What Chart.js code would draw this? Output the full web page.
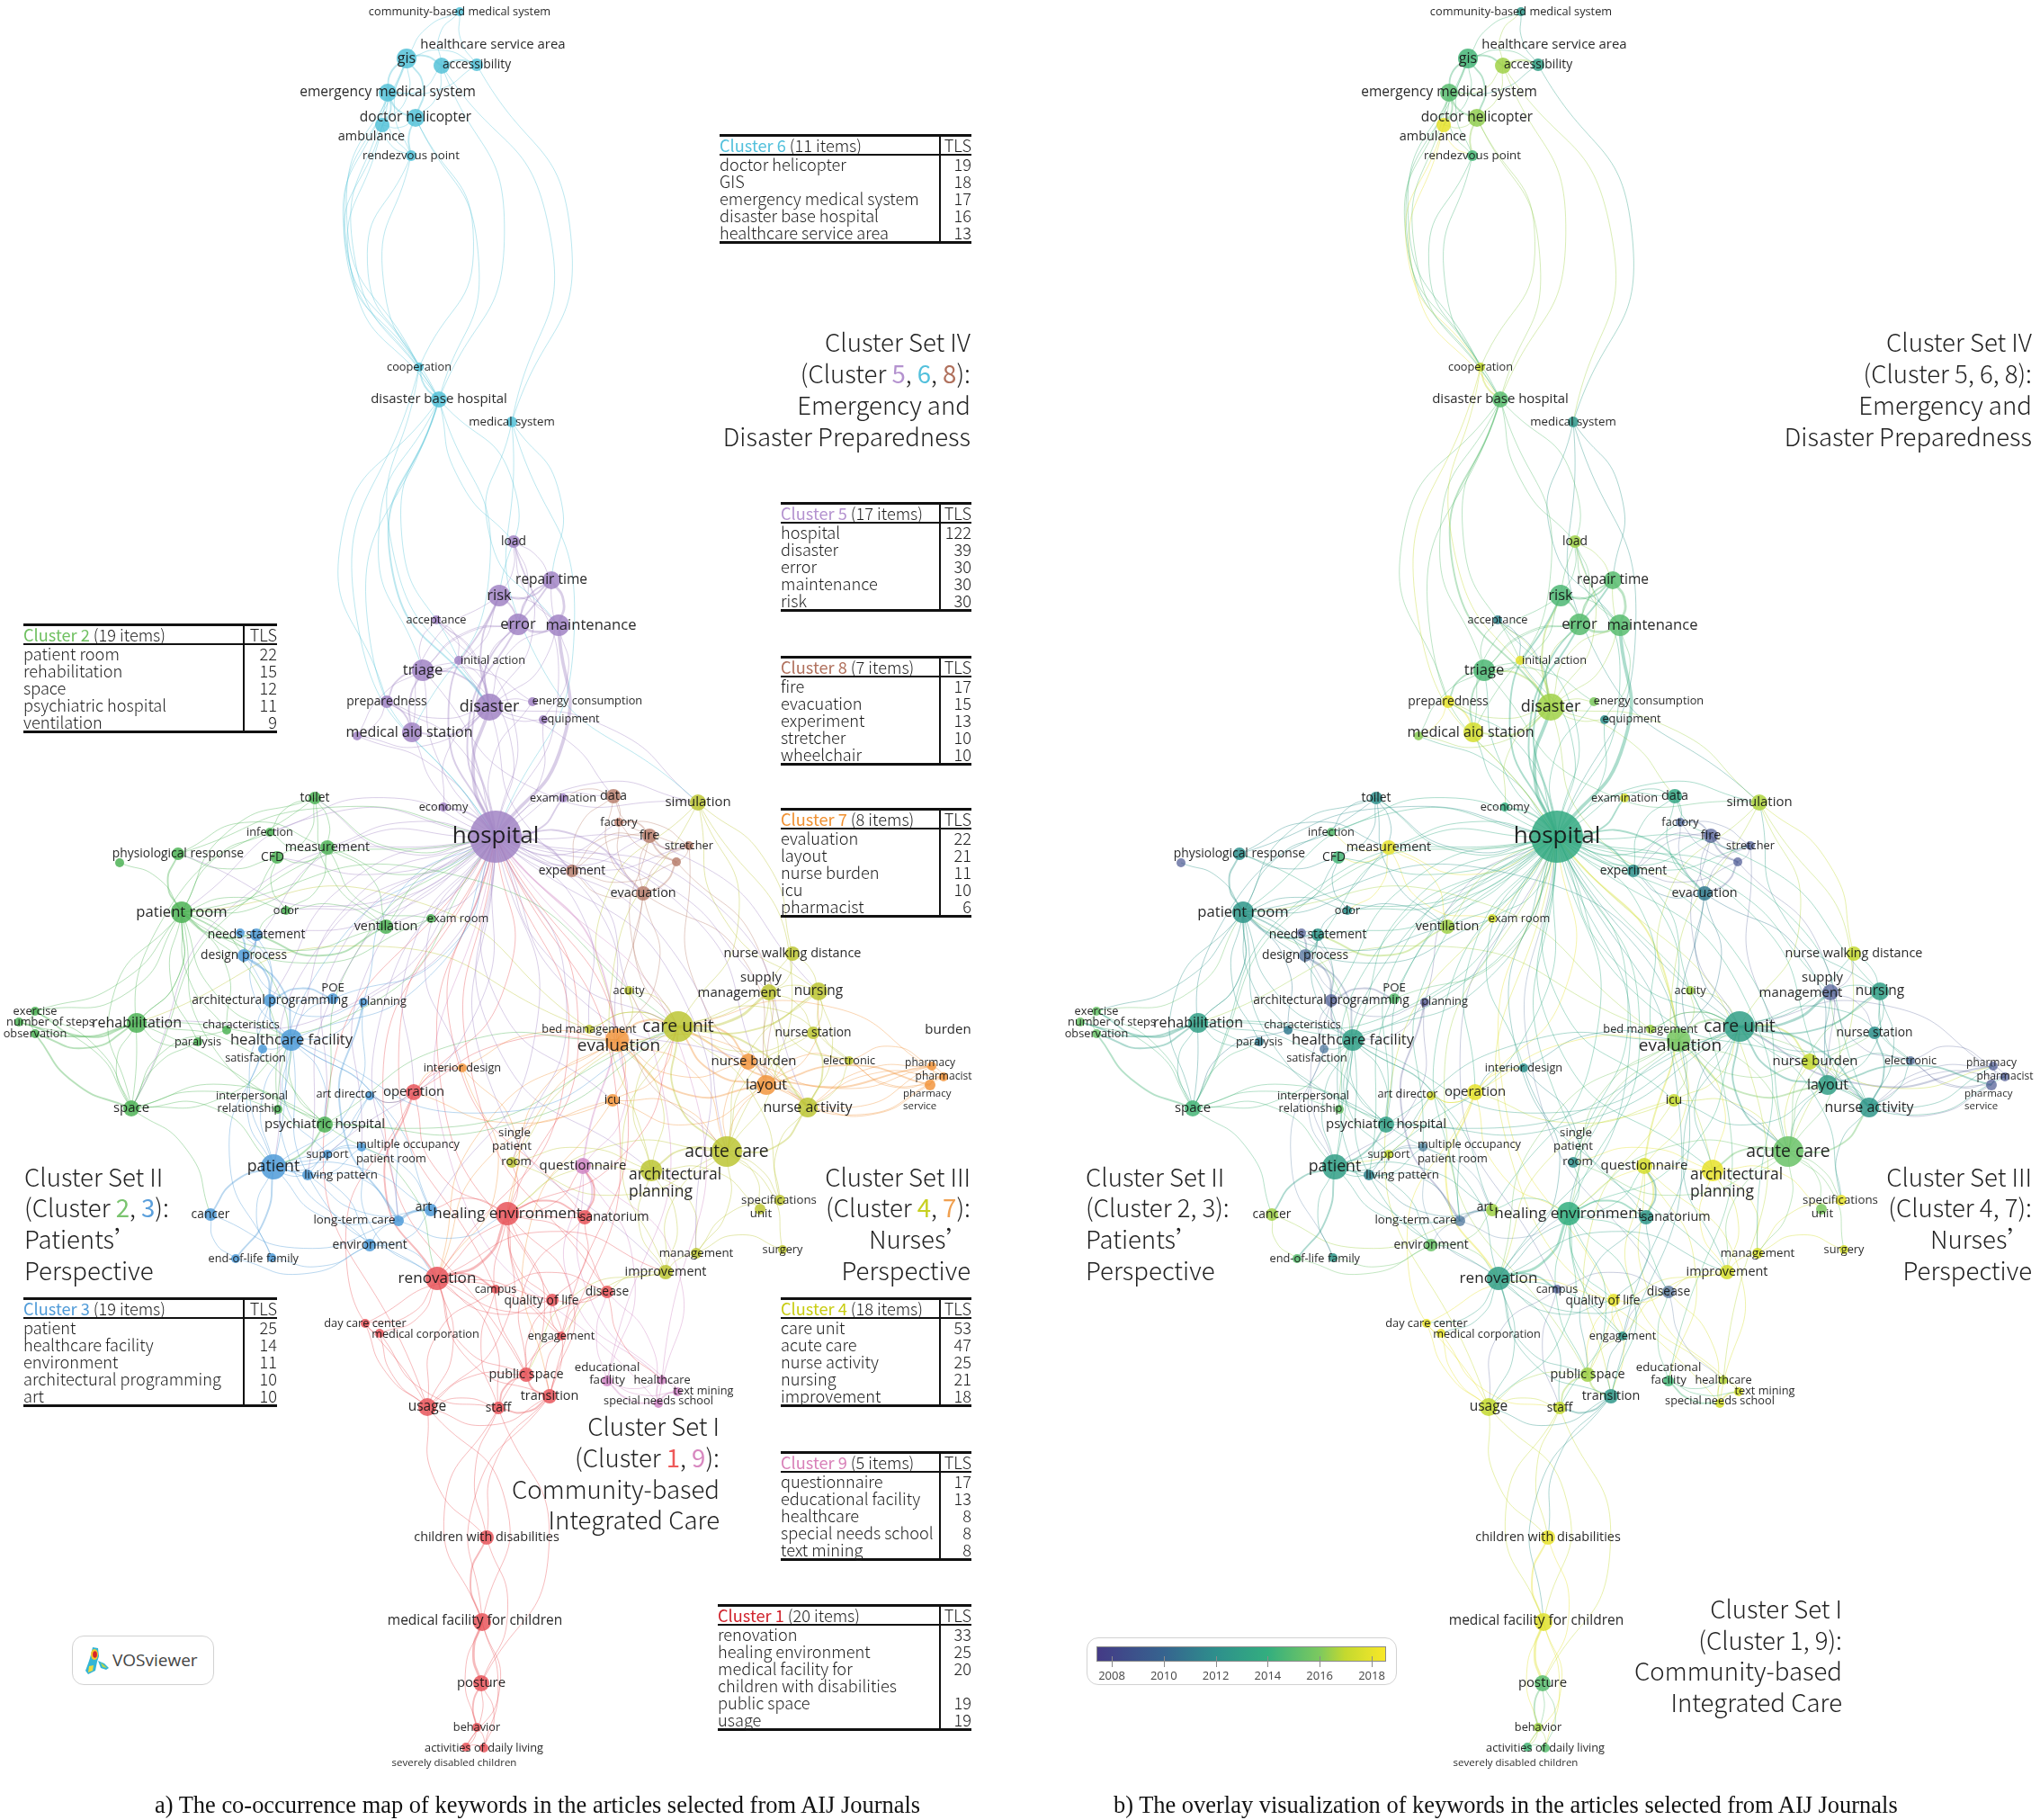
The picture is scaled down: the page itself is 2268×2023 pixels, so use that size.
<!DOCTYPE html>
<html>
<head>
<meta charset="utf-8">
<title>Keyword co-occurrence maps</title>
<script src="https://cdn.jsdelivr.net/npm/chart.js@4/dist/chart.umd.min.js"></script>
<style>
  html, body { margin: 0; padding: 0; background: #fff; }
  #page { position: relative; width: 2268px; height: 2023px; overflow: hidden; }
  canvas { position: absolute; left: 0; top: 0; }
  .abs { position: absolute; }
  .setline { position: absolute; font: 300 27.6px "Noto Sans CJK SC", "Noto Sans", sans-serif; color: #222; white-space: pre; line-height: 34px; }
  .tbl { position: absolute; border-collapse: collapse; font: 300 18.2px/19px "Noto Sans CJK SC", "Noto Sans", sans-serif; color: #1c1c1c; border-top: 3px solid #111; border-bottom: 3px solid #111; table-layout: fixed; }
  .tbl td { padding: 0; white-space: nowrap; overflow: visible; }
  .tbl tr:first-child td { border-bottom: 2.5px solid #111; height: 19px; }
  .tbl tr:first-child span { font-weight: 400; }
  .tbl td:last-child { border-left: 2.5px solid #111; text-align: right; }
  .cap { position: absolute; font: 26.45px "Liberation Serif", serif; color: #111; white-space: pre; }
  .badge { position: absolute; border: 1.5px solid #d2d2d2; border-radius: 13px; box-sizing: border-box; background: #fff; }
</style>
</head>
<body>
<div id="page"><canvas id="map" width="2268" height="2023"></canvas></div>
<script>
// rows: keyword, map x, map y, node radius, average year
const cluster1 = [
  ['operation',460,1214,9,2018],['healing environment',564,1349,13,2014],['sanatorium',650,1353,8,2012.5],
  ['renovation',486,1421,13,2013],['campus',551,1433,5,2008.5],['quality of life',614,1445,7,2018],
  ['disease',675,1436,7,2009.5],['day care center',406,1471,5,2018],['medical corporation',422,1482,5,2018],
  ['engagement',624,1485,5,2012.5],['public space',585,1528,8,2016.5],['transition',611,1552,8,2012.5],
  ['usage',475,1564,10,2017],['staff',554,1565,7,2017],['children with disabilities',541,1709,8,2018],
  ['medical facility for children',536,1803,10,2017.8],['posture',535,1871,9,2015],['behavior',530,1920,5,2016.5],
  ['activities of daily living',538,1943,5,2015],['severely disabled children',518,1942,5,2014.5]
];
const cluster2 = [
  ['toilet',350,887,7,2012],['infection',300,925,5,2015],['measurement',364,942,8,2018],['CFD',308,953,7,2014.5],
  ['physiological response',198,949,7,2012],['c2x',133,959,5,2008.5],['patient room',202,1014,12,2012.5],
  ['odor',318,1012,5,2012],['ventilation',429,1030,8,2016.5],['exam room',479,1021,5,2017.5],
  ['exercise',39,1124,5,2015.5],['number of steps',21,1136,5,2015.5],['observation',39,1149,5,2015.5],
  ['rehabilitation',152,1137,11,2013],['characteristics',252,1145,5,2011],['paralysis',220,1158,5,2011],
  ['space',146,1232,9,2014.5],['interpersonal relationship',309,1233,5,2015.5],['psychiatric hospital',361,1250,9,2013]
];
const cluster3 = [
  ['needs statement',285,1039,7,2012.5],['c3x',267,1037,5,2008.5],['design process',271,1062,7,2009.5],
  ['architectural programming',300,1112,7,2008.5],['POE',370,1110,6,2015],['planning',404,1114,5,2008],
  ['healthcare facility',324,1156,12,2013],['satisfaction',292,1166,5,2010],['art director',411,1218,5,2017.5],
  ['patient',304,1297,14,2013],['support',364,1283,5,2017],['multiple occupancy patient room',402,1275,5,2010.5],
  ['living pattern',342,1306,6,2011.5],['cancer',234,1350,7,2016.5],['long-term care',443,1357,6,2010],
  ['art',479,1345,7,2016.5],['environment',411,1384,7,2015.5],['end-of-life',262,1399,5,2015],['family',302,1398,5,2012.5]
];
const cluster4 = [
  ['care unit',754,1141,17,2013],['acute care',808,1280,17,2015.5],['architectural planning',724,1301,12,2018],
  ['nurse activity',898,1231,11,2012.5],['nursing',910,1102,10,2013],['supply management',855,1103,9,2008.5],
  ['nurse walking distance',881,1060,8,2017],['nurse station',904,1148,7,2012],['electronic',944,1179,5,2009.5],
  ['acuity',699,1101,5,2016.5],['bed management',655,1144,5,2016.5],['single patient room',569,1292,6,2012],
  ['specifications',867,1334,6,2018],['unit',845,1344,6,2016],['management',774,1393,6,2017.5],
  ['surgery',870,1389,5,2017.5],['improvement',740,1414,8,2017.5],['simulation',776,892,9,2016.7]
];
const cluster5 = [
  ['hospital',551,930,29,2013.7],['disaster',544,786,15,2016.5],['load',571,602,7,2016.5],['repair time',613,645,10,2015],
  ['risk',555,662,12,2014.7],['acceptance',485,689,5,2011.5],['error',576,694,12,2015],['maintenance',621,695,12,2015],
  ['triage',470,745,12,2014.7],['initial action',510,734,5,2018],['preparedness',430,780,7,2018],
  ['energy consumption',592,780,5,2016],['equipment',604,800,5,2012],['medical aid station',458,814,11,2017.5],
  ['c5x',397,818,5,2016.2],['economy',493,897,5,2014],['examination',626,887,5,2017.5]
];
const cluster6 = [
  ['community-based medical system',511,13,5,2012.5],['healthcare service area',491,73,9,2016.5],['accessibility',530,72,7,2013],
  ['gis',452,65,11,2014.5],['emergency medical system',431,103,10,2015],['doctor helicopter',462,131,10,2016.3],
  ['ambulance',425,139,8,2018],['rendezvous point',457,173,6,2014.5],['cooperation',466,408,5,2017],
  ['disaster base hospital',488,444,9,2015],['medical system',569,469,6,2012.5]
];
const cluster7 = [
  ['evaluation',686,1156,13,2015.8],['layout',852,1206,11,2013],['nurse burden',832,1180,9,2017],['icu',681,1223,7,2017],
  ['pharmacist',1049,1197,5,2008.5],['pharmacy',1036,1185,5,2008.5],['pharmacy service',1034,1206,6,2008.5],
  ['interior design',514,1187,5,2012]
];
const cluster8 = [
  ['data',682,885,8,2013.5],['factory',688,914,5,2009],['fire',722,929,8,2008.5],['stretcher',766,940,5,2008.5],
  ['wheelchair',752,958,5,2008.5],['experiment',636,968,7,2012],['evacuation',715,993,8,2011]
];
const cluster9 = [
  ['questionnaire',648,1296,9,2017.5],['educational facility',675,1535,6,2014.5],['healthcare',736,1534,5,2016.8],
  ['text mining',753,1547,5,2017.5],['special needs school',732,1560,5,2017.5]
];

// co-occurrence links, "target|strength"; the link takes the colour of its source
const links = {
  'gis': ['healthcare service area|2','accessibility','emergency medical system|2','doctor helicopter|2','ambulance','community-based medical system','rendezvous point','disaster base hospital','cooperation'],
  'healthcare service area': ['accessibility|2','emergency medical system','doctor helicopter','community-based medical system','disaster base hospital','medical system'],
  'emergency medical system': ['doctor helicopter|2','ambulance|2','rendezvous point','disaster base hospital','cooperation'],
  'doctor helicopter': ['ambulance','rendezvous point|2','disaster base hospital','cooperation'],
  'ambulance': ['rendezvous point','cooperation','disaster base hospital'],
  'accessibility': ['community-based medical system','medical system','emergency medical system'],
  'rendezvous point': ['cooperation','disaster base hospital'],
  'cooperation': ['disaster base hospital|2','hospital','disaster'],
  'disaster base hospital': ['hospital','disaster|2','triage','medical aid station','load','risk','initial action','preparedness'],
  'medical system': ['hospital','maintenance','repair time','simulation'],
  'hospital': ['disaster|4','risk|2','error|2','maintenance|4','repair time|2','triage','initial action','load','acceptance','preparedness','medical aid station','energy consumption','equipment','economy|2','examination|2','c5x','data','factory','fire','stretcher','experiment|2','evacuation|2','toilet','infection','measurement','CFD','physiological response','patient room','odor','ventilation','exam room','rehabilitation','space','needs statement','design process','architectural programming','planning','healthcare facility','psychiatric hospital','patient','support','multiple occupancy patient room','living pattern','art','long-term care','operation','care unit','acute care','architectural planning','nurse activity','nursing','supply management','acuity','bed management','single patient room','simulation','evaluation','layout','nurse burden','icu','interior design','improvement','management'],
  'disaster': ['triage|2','risk|2','error','maintenance','repair time','load','initial action','preparedness','medical aid station|2','energy consumption','equipment','acceptance','economy','c5x','simulation','evacuation','data'],
  'risk': ['error|2','repair time|2','maintenance','load','triage','medical aid station'],
  'error': ['maintenance|3','repair time|2','load','triage'],
  'maintenance': ['repair time|3','load','equipment'],
  'triage': ['preparedness|2','medical aid station|2','acceptance','initial action','energy consumption','c5x','error','simulation'],
  'preparedness': ['medical aid station|2','c5x'],
  'acceptance': ['initial action','disaster'],
  'load': ['repair time'],
  'data': ['factory','fire','evacuation','experiment','examination'],
  'factory': ['fire|2','stretcher','evacuation','wheelchair'],
  'fire': ['stretcher|2','wheelchair|2','evacuation','experiment','care unit'],
  'stretcher': ['wheelchair','evacuation','experiment','nurse activity'],
  'wheelchair': ['evacuation|2','experiment','layout'],
  'evacuation': ['experiment','care unit','evaluation','layout','acute care'],
  'patient room': ['physiological response|2','c2x','toilet','infection','measurement','CFD','odor','ventilation','needs statement|2','design process','rehabilitation','exercise','space','characteristics','paralysis','healthcare facility','interpersonal relationship','exam room','care unit','psychiatric hospital'],
  'physiological response': ['CFD','measurement','hospital'],
  'toilet': ['measurement','infection','hospital','CFD','ventilation','space'],
  'measurement': ['CFD','hospital','ventilation','infection','odor','exam room'],
  'odor': ['ventilation','CFD','needs statement'],
  'ventilation': ['exam room','needs statement|2','hospital'],
  'rehabilitation': ['exercise|2','number of steps|2','observation|2','space','paralysis','patient room','hospital','care unit','psychiatric hospital'],
  'space': ['exercise','number of steps','observation|2','patient','psychiatric hospital','interpersonal relationship','paralysis','cancer','hospital','healthcare facility'],
  'exercise': ['observation','number of steps','patient room'],
  'characteristics': ['patient room','space'],
  'interpersonal relationship': ['psychiatric hospital','patient room'],
  'psychiatric hospital': ['patient|2','hospital','healthcare facility','evaluation','care unit','renovation'],
  'needs statement': ['c3x','design process|2','architectural programming','healthcare facility'],
  'c3x': ['design process|2','architectural programming'],
  'design process': ['architectural programming|2','healthcare facility|2','POE'],
  'architectural programming': ['POE|2','healthcare facility|2','planning','satisfaction','patient'],
  'POE': ['healthcare facility','hospital'],
  'planning': ['hospital','patient','healthcare facility','long-term care|2'],
  'healthcare facility': ['satisfaction','patient','psychiatric hospital','support','long-term care','art','environment','hospital','renovation','care unit'],
  'satisfaction': ['patient','family'],
  'patient': ['support','living pattern','cancer|2','multiple occupancy patient room','long-term care','end-of-life|2','family','art','environment','art director','hospital'],
  'cancer': ['end-of-life','long-term care'],
  'living pattern': ['support','multiple occupancy patient room','long-term care','art'],
  'long-term care': ['art|3','environment','healing environment'],
  'environment': ['family','end-of-life','renovation','art'],
  'multiple occupancy patient room': ['support','art','renovation'],
  'art director': ['operation','patient'],
  'operation': ['hospital','renovation|2','healing environment','art director','usage','evaluation','interior design'],
  'healing environment': ['hospital','renovation|3','sanatorium|2','quality of life','disease','public space','usage','engagement','transition','staff','questionnaire','art','single patient room','care unit'],
  'sanatorium': ['hospital','renovation','quality of life','public space','questionnaire|2'],
  'renovation': ['hospital','campus|2','quality of life','disease','day care center','medical corporation','engagement','public space','transition','usage','staff','improvement'],
  'campus': ['hospital','disease','usage','staff'],
  'quality of life': ['hospital','disease','engagement','public space','transition','day care center'],
  'disease': ['hospital','engagement','healthcare'],
  'engagement': ['hospital'],
  'day care center': ['medical corporation','usage'],
  'medical corporation': ['usage','staff'],
  'public space': ['hospital','engagement','transition|2','usage','staff|2'],
  'transition': ['hospital','staff|2','usage','children with disabilities','medical facility for children','engagement'],
  'usage': ['hospital','staff','children with disabilities','medical facility for children'],
  'staff': ['children with disabilities','medical facility for children','posture'],
  'children with disabilities': ['medical facility for children|2','posture'],
  'medical facility for children': ['posture|3','behavior','activities of daily living','severely disabled children'],
  'posture': ['behavior|2','activities of daily living','severely disabled children'],
  'behavior': ['activities of daily living','severely disabled children'],
  'activities of daily living': ['severely disabled children'],
  'questionnaire': ['hospital|2','sanatorium|2','educational facility','healthcare','special needs school','text mining','evaluation'],
  'educational facility': ['hospital','healthcare','special needs school|2','text mining','disease'],
  'healthcare': ['special needs school','text mining','hospital'],
  'special needs school': ['text mining|2','hospital','disease'],
  'care unit': ['acute care|2','nurse activity|2','supply management|3','nursing|2','nurse walking distance','nurse station','architectural planning','bed management','acuity','single patient room','electronic','specifications','improvement'],
  'acute care': ['architectural planning|2','nurse activity|2','supply management','nursing','nurse station','specifications','unit','surgery','management','improvement','single patient room','healing environment'],
  'nurse activity': ['nursing','nurse station|2','electronic','supply management','specifications'],
  'nursing': ['nurse walking distance','supply management','nurse station','simulation','electronic'],
  'supply management': ['nurse walking distance','nurse station','electronic'],
  'nurse walking distance': ['simulation'],
  'simulation': ['care unit','acute care','architectural planning','evaluation'],
  'management': ['improvement','surgery','specifications','architectural planning'],
  'improvement': ['architectural planning','disease','public space','engagement'],
  'acuity': ['evaluation','care unit'],
  'bed management': ['care unit','evaluation','patient room','rehabilitation'],
  'architectural planning': ['single patient room','evaluation','unit','improvement','healing environment'],
  'evaluation': ['care unit|2','layout|2','nurse burden','icu','nurse activity','acute care','healing environment','single patient room','renovation'],
  'layout': ['nurse burden|2','care unit|2','acute care','nurse activity','pharmacy','pharmacist','pharmacy service|2','electronic','icu','nursing'],
  'nurse burden': ['care unit|2','pharmacy','acute care'],
  'icu': ['care unit','acute care','renovation','operation','transition'],
  'pharmacy': ['pharmacist','pharmacy service','care unit|2','electronic','nurse activity'],
  'pharmacist': ['pharmacy service','electronic','nurse activity','care unit'],
  'pharmacy service': ['nurse activity','electronic'],
  'interior design': ['operation','evaluation','renovation','healing environment']
};

// labels that were moved off their node by hand: [text, x, y, anchor]
const movedLabels = {
  'ambulance': [['ambulance',413,152]],
  'healthcare service area': [['healthcare service area',548,50]],
  'maintenance': [['maintenance',657,695]],
  'initial action': [['initial action',548,734]],
  'energy consumption': [['energy consumption',653,779]],
  'equipment': [['equipment',634,799]],
  'medical aid station': [['medical aid station',455,814]],
  'exam room': [['exam room',509,1021]],
  'CFD': [['CFD',303,953]],
  'number of steps': [['number of steps',56,1136]],
  'characteristics': [['characteristics',268,1139]],
  'interpersonal relationship': [['interpersonal',280,1218],['relationship',277,1232]],
  'POE': [['POE',370,1098]],
  'planning': [['planning',426,1113]],
  'satisfaction': [['satisfaction',284,1176]],
  'art director': [['art director',385,1216]],
  'multiple occupancy patient room': [['multiple occupancy',396,1272,'left'],['patient room',396,1288,'left']],
  'living pattern': [['living pattern',379,1306]],
  'long-term care': [['long-term care',394,1356]],
  'art': [['art',471,1342]],
  'family': [['family',314,1399]],
  'sanatorium': [['sanatorium',683,1353]],
  'medical corporation': [['medical corporation',473,1483]],
  'quality of life': [['quality of life',602,1446]],
  'text mining': [['text mining',782,1546]],
  'special needs school': [['special needs school',732,1557]],
  'educational facility': [['educational',675,1520],['facility',675,1534]],
  'supply management': [['supply',846,1087],['management',822,1104]],
  'single patient room': [['single',572,1259],['patient',569,1274],['room',574,1291]],
  'specifications': [['specifications',866,1334]],
  'unit': [['unit',846,1349]],
  'architectural planning': [['architectural',699,1306,'left'],['planning',699,1325,'left']],
  'evaluation': [['evaluation',688,1163]],
  'nurse burden': [['nurse burden',838,1180]],
  'pharmacy': [['pharmacy',1034,1182]],
  'pharmacy service': [['pharmacy',1004,1216,'left'],['service',1004,1230,'left']],
  'medical facility for children': [['medical facility for children',528,1802]],
  'severely disabled children': [['severely disabled children',505,1960]]
};
const hiddenLabels = ['c2x','c3x','c5x','wheelchair'];
const labelFontOverride = { 'hospital': 26, 'disaster': 18, 'severely disabled children': 11.5, 'architectural planning': 17.5, 'evaluation': 19, 'pharmacy': 12, 'pharmacist': 12, 'pharmacy service': 11.5 };

// colours
const clusterColors = {1:'232,85,90',2:'77,179,86',3:'79,155,216',4:'188,197,52',5:'161,132,196',6:'85,194,216',7:'242,150,63',8:'185,128,111',9:'207,134,196'};
const yearTicks = [2008,2010,2012,2014,2016,2018];
const yearStops = [[2007.4,68,58,134],[2010,54,100,143],[2012,46,143,140],[2014,51,174,127],[2016,124,201,95],[2017,196,217,47],[2018.6,250,232,40]];

const clusters = {1:cluster1,2:cluster2,3:cluster3,4:cluster4,5:cluster5,6:cluster6,7:cluster7,8:cluster8,9:cluster9};
const PANEL_SHIFT = 1180;

function yearRgb(y) {
  for (let i = 1; i < yearStops.length; i++) {
    if (y <= yearStops[i][0]) {
      const a = yearStops[i-1], b = yearStops[i], t = (y - a[0]) / (b[0] - a[0]);
      return [1,2,3].map(k => Math.round(a[k] + (b[k]-a[k]) * t)).join(',');
    }
  }
  return yearStops[yearStops.length-1].slice(1).join(',');
}

const nodes = {};
Object.keys(clusters).forEach(c => clusters[c].forEach(r => {
  nodes[r[0]] = { key: r[0], x: r[1], y: r[2], r: r[3], year: r[4], cluster: c };
}));

function hash(s) { let h = 0; for (const ch of s) h = (h * 31 + ch.charCodeAt(0)) % 1009; return h; }

// each link bows to one side, going through a single mid point
function linkDatasets(shift, colorOf, alphaOf) {
  const out = [];
  Object.keys(links).forEach(src => links[src].forEach(item => {
    const [tgt, w] = item.split('|');
    const a = nodes[src], b = nodes[tgt];
    if (!a || !b) { console.log('missing', src, tgt); return; }
    const dx = b.x - a.x, dy = b.y - a.y;
    const long = Math.abs(dy) > 200;
    const size = (long ? 0.17 : 0.12) + (hash(tgt + src) % 7) / (long ? 90 : 70);
    // the long links at the top of the map open out into a lens
    const side = long && a.y < 200 ? (a.x < 458 ? 1 : -1) : (hash(src + tgt) % 2 ? 1 : -1);
    const bow = side * size;
    const mid = { x: (a.x + b.x) / 2 - dy * bow + shift, y: (a.y + b.y) / 2 + dx * bow };
    out.push({
      type: 'scatter', showLine: true, order: 10, tension: 0.55, pointRadius: 0,
      borderColor: 'rgba(' + colorOf(a) + ',' + alphaOf(a) + ')', borderWidth: 1 + ((+w || 1) - 1) * 0.9,
      data: [{x: a.x + shift, y: a.y}, mid, {x: b.x + shift, y: b.y}]
    });
  }));
  return out;
}

function nodeDataset(shift, colorOf, alphaOf) {
  const list = Object.values(nodes);
  return {
    type: 'bubble', order: 1, borderWidth: 0,
    backgroundColor: list.map(n => 'rgba(' + colorOf(n) + ',' + alphaOf(n) + ')'),
    data: list.map(n => ({ x: n.x + shift, y: n.y, r: n.r }))
  };
}

const leftColor = n => clusterColors[n.cluster];
const rightColor = n => yearRgb(n.year);

// keyword labels go on top of everything, placed through the chart's scales
const labelPlugin = {
  id: 'keywordLabels',
  afterDatasetsDraw(chart) {
    const { ctx, scales: { x, y } } = chart;
    ctx.save();
    ctx.textBaseline = 'middle';
    ctx.fillStyle = 'rgba(20,20,20,0.92)';
    [0, PANEL_SHIFT].forEach(shift => {
      Object.values(nodes).forEach(n => {
        if (hiddenLabels.includes(n.key)) return;
        const size = labelFontOverride[n.key] || (10 + 0.55 * n.r);
        ctx.font = size + 'px "Open Sans"';
        const lines = movedLabels[n.key] || [[n.key, n.x, n.y]];
        lines.forEach(l => {
          ctx.textAlign = l[3] || 'center';
          ctx.fillText(l[0], x.getPixelForValue(l[1] + shift), y.getPixelForValue(l[2]));
        });
      });
    });
    ctx.font = '15px "Open Sans"';
    ctx.textAlign = 'center';
    ctx.fillText('burden', x.getPixelForValue(1054), y.getPixelForValue(1145));
    ctx.restore();
  }
};

new Chart(document.getElementById('map'), {
  data: {
    datasets: [
      nodeDataset(0, leftColor, () => 0.85),
      nodeDataset(PANEL_SHIFT, rightColor, n => (n.year < 2011 ? 0.66 : 0.85)),
      ...linkDatasets(0, leftColor, () => 0.4),
      ...linkDatasets(PANEL_SHIFT, rightColor, n => (n.year < 2011 ? 0.28 : 0.4))
    ]
  },
  options: {
    responsive: false,
    animation: false,
    devicePixelRatio: 1,
    layout: { padding: 0, autoPadding: false },
    scales: {
      x: { type: 'linear', min: 0, max: 2268, display: false },
      y: { type: 'linear', min: 0, max: 2023, reverse: true, display: false }
    },
    plugins: { legend: { display: false }, tooltip: { enabled: false } }
  },
  plugins: [labelPlugin]
});

// ---- text around the maps ----
const page = document.getElementById('page');
function add(cls, css, html) {
  const d = document.createElement('div');
  d.className = cls;
  d.style.cssText = css;
  d.innerHTML = html;
  page.appendChild(d);
  return d;
}

const tableTitles = [
  ['Cluster 2','(19 items)','#6fc060',26,306,270,693],
  ['Cluster 3','(19 items)','#4f9bd8',26,306,270,1442],
  ['Cluster 6','(11 items)','#52c0dc',800,1078,1044,149],
  ['Cluster 5','(17 items)','#b492cf',868,1078,1044,558],
  ['Cluster 8','(7 items)','#b0705c',868,1078,1044,729],
  ['Cluster 7','(8 items)','#f09030',868,1078,1044,898],
  ['Cluster 4','(18 items)','#c8cc10',868,1078,1044,1442],
  ['Cluster 9','(5 items)','#d880b8',868,1078,1044,1613],
  ['Cluster 1','(20 items)','#d0222c',798,1078,1044,1783]
];
const tableNames = [
  ['patient room','rehabilitation','space','psychiatric hospital','ventilation'],
  ['patient','healthcare facility','environment','architectural programming','art'],
  ['doctor helicopter','GIS','emergency medical system','disaster base hospital','healthcare service area'],
  ['hospital','disaster','error','maintenance','risk'],
  ['fire','evacuation','experiment','stretcher','wheelchair'],
  ['evaluation','layout','nurse burden','icu','pharmacist'],
  ['care unit','acute care','nurse activity','nursing','improvement'],
  ['questionnaire','educational facility','healthcare','special needs school','text mining'],
  ['renovation','healing environment','medical facility for','children with disabilities','public space','usage']
];
const tableTls = [
  [22,15,12,11,9],[25,14,11,10,10],[19,18,17,16,13],[122,39,30,30,30],[17,15,13,10,10],
  [22,21,11,10,6],[53,47,25,21,18],[17,13,8,8,8],[33,25,20,'',19,19]
];
tableTitles.forEach((t, i) => {
  const [name, items, color, x0, x1, xv, top] = t;
  let html = '<tr><td style="width:' + (xv - x0) + 'px"><span style="color:' + color + '">' + name + '</span> ' + items + '</td><td style="width:' + (x1 - xv) + 'px">TLS</td></tr>';
  tableNames[i].forEach((n, k) => { html += '<tr><td>' + n + '</td><td>' + tableTls[i][k] + '</td></tr>'; });
  const tb = document.createElement('table');
  tb.className = 'tbl';
  tb.style.cssText = 'left:' + x0 + 'px;top:' + top + 'px;width:' + (x1 - x0) + 'px';
  tb.innerHTML = html;
  page.appendChild(tb);
});

const setBlocks = [
  { right: 1079, ys: [379,414,449,484], lines: ['Cluster Set IV','(Cluster #5, #6, #8):','Emergency and','Disaster Preparedness'], digits: {5:'#b492cf',6:'#52c0dc',8:'#b0705c'}, rightRight: 2259 },
  { left: 27, ys: [1307,1341,1376,1411], lines: ['Cluster Set II','(Cluster #2, #3):','Patients\u2019','Perspective'], digits: {2:'#7ac46f',3:'#5a9fdc'}, leftRight: 1207 },
  { right: 1079, ys: [1307,1341,1376,1411], lines: ['Cluster Set III','(Cluster #4, #7):','Nurses\u2019','Perspective'], digits: {4:'#c8d020',7:'#f0a050'}, rightRight: 2259 },
  { right: 800, ys: [1584,1619,1654,1688], lines: ['Cluster Set I','(Cluster #1, #9):','Community-based','Integrated Care'], digits: {1:'#ee5a5a',9:'#d888c0'}, rightRight: 2048, rightYs: [1787,1822,1856,1891] }
];
setBlocks.forEach(b => {
  b.lines.forEach((line, i) => {
    const colored = line.replace(/#(\d)/g, (m, d) => '<span style="color:' + b.digits[d] + ';font-weight:400">' + d + '</span>');
    const plain = line.replace(/#/g, '');
    if (b.right) {
      add('setline', 'right:' + (2268 - b.right) + 'px;top:' + (b.ys[i] - 17) + 'px', colored);
      add('setline', 'right:' + (2268 - b.rightRight) + 'px;top:' + ((b.rightYs || b.ys)[i] - 17) + 'px', plain);
    } else {
      add('setline', 'left:' + b.left + 'px;top:' + (b.ys[i] - 17) + 'px', colored);
      add('setline', 'left:' + b.leftRight + 'px;top:' + (b.ys[i] - 17) + 'px', plain);
    }
  });
});

add('cap', 'left:172px;top:1991px', 'a) The co-occurrence map of keywords in the articles selected from AIJ Journals');
add('cap', 'left:1238px;top:1991px', 'b) The overlay visualization of keywords in the articles selected from AIJ Journals');

// VOSviewer badge
add('badge', 'left:80px;top:1818px;width:158px;height:55px', '');
add('abs', 'left:125px;top:1832px;font:19px "Open Sans";color:#444', 'VOSviewer');
add('abs', 'left:92px;top:1830px;width:32px;height:34px',
  '<svg width="32" height="34" viewBox="0 0 32 34">' +
  '<path d="M11 1 L17 2 L18 11 L16 17 L14 27 L6 31 L3 27 L6 19 L8 13 Z" fill="#33b5d6"/>' +
  '<path d="M17 16 L24 19 L29 24 L26 26 L20 24 Z" fill="#33b5d6"/>' +
  '<path d="M7 22 L12 21 L11 27 L6 29 Z" fill="#ecd940"/><path d="M20 18 L25 22 L27 24 L22 23 Z" fill="#b8d84a"/>' +
  '<ellipse cx="13" cy="9" rx="4" ry="6" fill="#f4c92e"/><ellipse cx="13.5" cy="9" rx="2.4" ry="3.8" fill="#d8232a"/></svg>');

// colour scale of the overlay map
const scaleX = y => 1236 + (y - 2008) * 28.9;
add('badge', 'left:1208px;top:1820px;width:345px;height:53px', '');
const gradient = yearStops.map(s => 'rgb(' + s.slice(1).join(',') + ') ' + ((scaleX(s[0]) - 1219) / 322 * 100).toFixed(1) + '%').join(',');
add('abs', 'left:1219px;top:1830px;width:322px;height:17px;box-sizing:border-box;border:1px solid #8a8a8a;background:linear-gradient(to right,' + gradient + ')', '');
yearTicks.forEach(y => {
  add('abs', 'left:' + scaleX(y) + 'px;top:1841px;width:1px;height:12px;background:#8a8a8a', '');
  add('abs', 'left:' + (scaleX(y) - 20) + 'px;top:1853px;width:40px;text-align:center;font:13px "Open Sans";color:#444', '' + y);
});
</script>
</body>
</html>
